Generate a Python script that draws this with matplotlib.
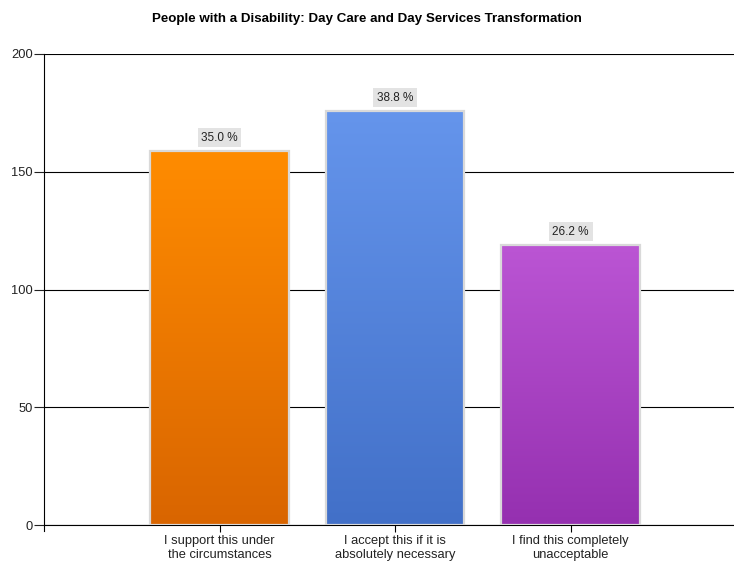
import matplotlib.pyplot as plt
import numpy as np
from matplotlib.colors import LinearSegmentedColormap
from matplotlib.patches import Rectangle

plt.rcParams['font.family'] = ['Liberation Sans', 'DejaVu Sans']

categories = ["I support this under\nthe circumstances",
              "I accept this if it is\nabsolutely necessary",
              "I find this completely\nunacceptable"]
counts = [159, 176, 119]
percent_labels = ["35.0 %", "38.8 %", "26.2 %"]
# (top colour, bottom colour) of each bar's gradient
bar_colors = [("#ff8c00", "#d96500"),
              ("#6595ec", "#4270c8"),
              ("#bb55d4", "#9530b0")]

fig = plt.figure(figsize=(7.34, 5.63), dpi=100)
ax = fig.add_axes([44 / 734, 38 / 563, 690 / 734, 471 / 563])

x = np.arange(1, len(counts) + 1)
width = 0.79
grad = np.linspace(0, 1, 256).reshape(-1, 1)

for xi, val, (top, bottom), lab in zip(x, counts, bar_colors, percent_labels):
    cmap = LinearSegmentedColormap.from_list("g", [bottom, top])
    im = ax.imshow(grad, extent=(xi - width / 2, xi + width / 2, 0, val),
                   origin="lower", cmap=cmap, aspect="auto", zorder=3)
    rect = Rectangle((xi - width / 2, 0), width, val, facecolor="none",
                     edgecolor="#d9d9d9", linewidth=1.6, zorder=4)
    ax.add_patch(rect)
    im.set_clip_path(rect)
    ax.annotate(lab, (xi, val), xytext=(0, 5), textcoords="offset points",
                ha="center", va="bottom", fontsize=8.5, color="#222222",
                bbox=dict(boxstyle="square,pad=0.3", facecolor="#e3e3e3",
                          edgecolor="none"), zorder=5)

ax.set_xlim(0, 3.93)
ax.set_ylim(0, 200)
ax.set_yticks([0, 50, 100, 150, 200])
ax.set_xticks(x)
ax.set_xticklabels(categories, fontsize=9.3, color="#222222")
ax.tick_params(axis="y", labelsize=9.3, colors="#222222", length=7, pad=1)
ax.tick_params(axis="x", length=5, pad=2)
ax.grid(axis="y", color="black", linewidth=0.8, zorder=0)
ax.set_axisbelow(True)
for side in ["top", "right"]:
    ax.spines[side].set_visible(False)
ax.spines["left"].set_linewidth(0.8)
ax.spines["left"].set_bounds(-2.5, 200)
ax.spines["bottom"].set_linewidth(0.8)

fig.text(0.5, 1 - 19 / 563, "People with a Disability: Day Care and Day Services Transformation",
         ha="center", va="center", fontsize=9.6, fontweight="bold")

fig.savefig("out.png", dpi=100)
